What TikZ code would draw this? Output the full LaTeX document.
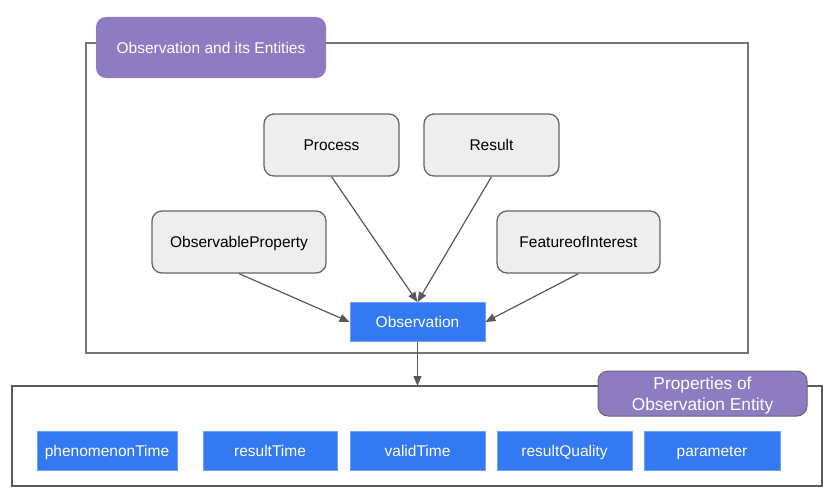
\documentclass[tikz,border=0pt]{standalone}
\usepackage{fontspec}
\setmainfont{Liberation Sans}
\usetikzlibrary{arrows.meta}
\definecolor{purp}{HTML}{8E7CC3}
\definecolor{blu}{HTML}{3279F2}
\definecolor{lgray}{HTML}{EEEEEE}
\definecolor{dgray}{HTML}{666666}
\definecolor{agray}{HTML}{595959}
\begin{document}
\begin{tikzpicture}[x=1pt,y=-1pt,
  every node/.style={font=\fontsize{15.5}{18.5}\selectfont, inner sep=0pt, align=center},
  oneline/.style={text height=13pt, text depth=2pt},
  badge/.style={fill=purp, draw=dgray, line width=1pt, rounded corners=10pt, text=white},
  entity/.style={oneline, fill=lgray, draw=dgray, line width=1.3pt, rounded corners=10pt, minimum height=62pt},
  bluebox/.style={oneline, fill=blu, draw=blu!70!white, line width=0.8pt, text=white, minimum height=39pt},
  frame/.style={draw=dgray!90!white, line width=1.3pt},
  arr/.style={draw=agray, line width=1.2pt, -{Triangle[length=10pt,width=8pt]}}
]
\useasboundingbox (0,0) rectangle (832,503);
\fill[white] (0,0) rectangle (832,503);
% frames
\draw[frame] (86,43) rectangle (748,353);
\draw[draw=agray, line width=2pt] (12,386) rectangle (822,486);
% badges
\node[badge, oneline, draw=none, minimum width=230pt, minimum height=61pt] (title) at (211,47.5) {Observation and its Entities};
\draw[badge] (598,371) rectangle (807,416);
\node[text=white, font=\fontsize{17.3}{21}\selectfont] (props) at (702.5,395.5) {Properties of\\Observation Entity};
% entities
\node[entity, minimum width=135pt] (process) at (331.5,145) {Process};
\node[entity, minimum width=135pt] (result) at (491.5,145) {Result};
\node[entity, minimum width=174pt] (obsprop) at (239,242) {ObservableProperty};
\node[entity, minimum width=163pt] (foi) at (578.5,242) {FeatureofInterest};
\node[bluebox, minimum width=135pt] (obs) at (417.5,322) {Observation};
% properties
\node[bluebox, minimum width=140pt] (pt) at (107,451) {phenomenonTime};
\node[bluebox, minimum width=134pt] (rt) at (270,451) {resultTime};
\node[bluebox, minimum width=135pt] (vt) at (417.5,451) {validTime};
\node[bluebox, minimum width=135pt] (rq) at (564.5,451) {resultQuality};
\node[bluebox, minimum width=136pt] (par) at (712,451) {parameter};
\coordinate (btop) at (417.5,386);
% arrows
\draw[arr] (process.south) -- (obs.north);
\draw[arr] (result.south) -- (obs.north);
\draw[arr] (obsprop.south) -- (obs.west);
\draw[arr] (foi.south) -- (obs.east);
\draw[arr] (obs.south) -- (btop);
\end{tikzpicture}
\end{document}
